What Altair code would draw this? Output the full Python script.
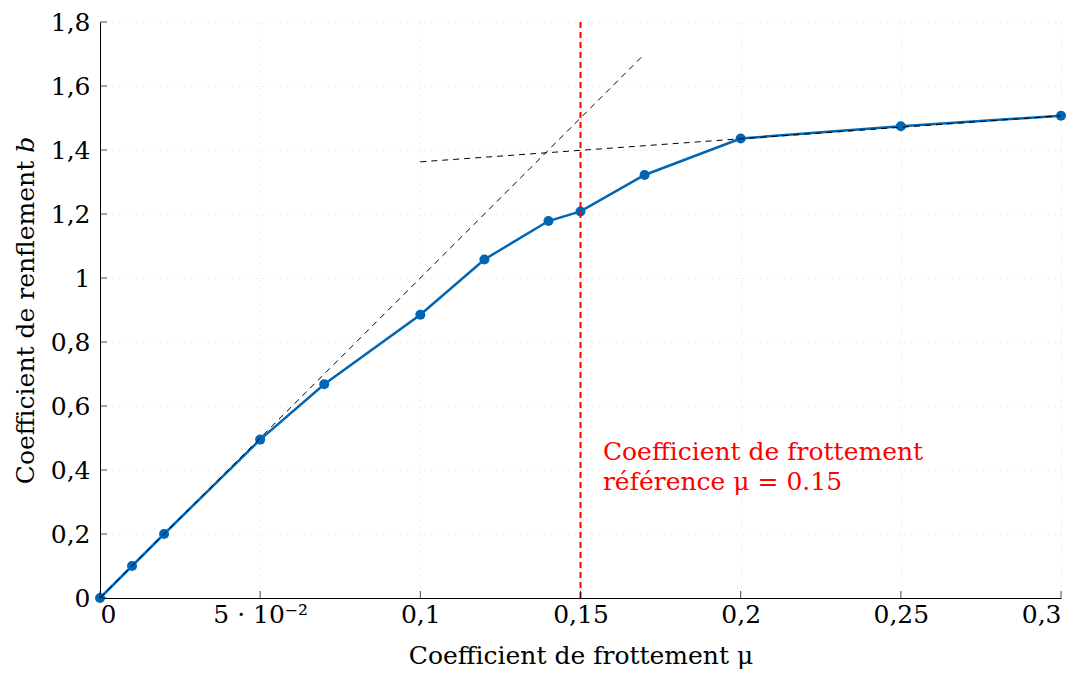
import altair as alt
import pandas as pd

mu = [0, 0.01, 0.02, 0.05, 0.07, 0.1, 0.12, 0.14, 0.15, 0.17, 0.2, 0.25, 0.3]
b = [0, 0.1, 0.2, 0.495, 0.668, 0.885, 1.058, 1.178, 1.208, 1.322, 1.436, 1.474, 1.507]

tan1_x = [0, 0.17]
tan1_y = [0, 1.7]
tan2_x = [0.1, 0.3]
tan2_y = [1.363, 1.507]

ref_mu = 0.15
ref_y = [0, 1.8]

x_ticks = [0, 0.05, 0.1, 0.15, 0.2, 0.25, 0.3]
y_ticks = [0, 0.2, 0.4, 0.6, 0.8, 1.0, 1.2, 1.4, 1.6, 1.8]

annot_lines = ["Coefficient de frottement", "référence μ = 0.15"]
annot_pos = [0.157, 0.455]

FONT = "DejaVu Serif"
BLUE = "#0065b3"
FS = 25

df = pd.DataFrame({"mu": mu, "b": b})
t1 = pd.DataFrame({"mu": tan1_x, "b": tan1_y})
t2 = pd.DataFrame({"mu": tan2_x, "b": tan2_y})
red = pd.DataFrame({"mu": [ref_mu, ref_mu], "b": ref_y})
xt = pd.DataFrame({"v": x_ticks})
yt = pd.DataFrame({"v": y_ticks})
ann = pd.DataFrame({"mu": [annot_pos[0]], "b": [annot_pos[1]], "t": [annot_lines]})

xscale = alt.Scale(domain=[0, 0.3], nice=False, zero=False)
yscale = alt.Scale(domain=[0, 1.8], nice=False, zero=False)

common = dict(
    ticks=False,
    grid=True,
    gridColor="#dcdcdc",
    gridDash=[1, 5],
    domainColor="#000000",
    labelFont=FONT,
    labelFontSize=FS,
    labelColor="#000000",
    titleFont=FONT,
    titleFontSize=FS,
    titleFontWeight="normal",
    titleColor="#000000",
)

xaxis = alt.Axis(
    values=x_ticks,
    title="Coefficient de frottement μ",
    labelExpr="abs(datum.value-0.05)<1e-9 ? '5 · 10⁻²' : replace(format(datum.value, '~g'), '.', ',')",
    labelPadding=4,
    titlePadding=16,
    **common,
)
yaxis = alt.Axis(
    values=y_ticks,
    title="Coefficient de renflement 𝑏",
    labelExpr="replace(format(datum.value, '.1~f'), '.', ',')",
    labelPadding=10,
    titlePadding=12,
    **common,
)

base_line = alt.Chart(df).mark_line(color=BLUE, strokeWidth=2.5).encode(
    x=alt.X("mu:Q", scale=xscale, axis=xaxis),
    y=alt.Y("b:Q", scale=yscale, axis=yaxis),
)
pts = alt.Chart(df).mark_circle(color=BLUE, size=100, opacity=1).encode(
    x=alt.X("mu:Q", scale=xscale), y=alt.Y("b:Q", scale=yscale)
)
l1 = alt.Chart(t1).mark_line(color="#000000", strokeWidth=1, strokeDash=[6, 5]).encode(
    x=alt.X("mu:Q", scale=xscale), y=alt.Y("b:Q", scale=yscale)
)
l2 = alt.Chart(t2).mark_line(color="#000000", strokeWidth=1, strokeDash=[6, 5]).encode(
    x=alt.X("mu:Q", scale=xscale), y=alt.Y("b:Q", scale=yscale)
)
redl = alt.Chart(red).mark_line(color="#ff0000", strokeWidth=2, strokeDash=[6, 4]).encode(
    x=alt.X("mu:Q", scale=xscale), y=alt.Y("b:Q", scale=yscale)
)
xtk = alt.Chart(xt).mark_tick(orient="vertical", size=7, yOffset=-3.5, thickness=1, color="#000000").encode(
    x=alt.X("v:Q", scale=xscale), y=alt.datum(0, scale=yscale)
)
ytk = alt.Chart(yt).mark_tick(orient="horizontal", size=7, xOffset=3.5, thickness=1, color="#000000").encode(
    y=alt.Y("v:Q", scale=yscale), x=alt.datum(0, scale=xscale)
)
txt = alt.Chart(ann).mark_text(
    color="#ff0000", font=FONT, fontSize=FS, align="left", baseline="middle", lineHeight=30
).encode(x=alt.X("mu:Q", scale=xscale), y=alt.Y("b:Q", scale=yscale), text="t")

chart = alt.layer(base_line, pts, l1, l2, redl, xtk, ytk, txt).properties(
    width=961, height=576, padding={"left": 5, "top": 2, "right": 5, "bottom": 5}
).configure_view(stroke=None)

chart.save("out.html", embed_options={"renderer": "svg", "actions": False})
